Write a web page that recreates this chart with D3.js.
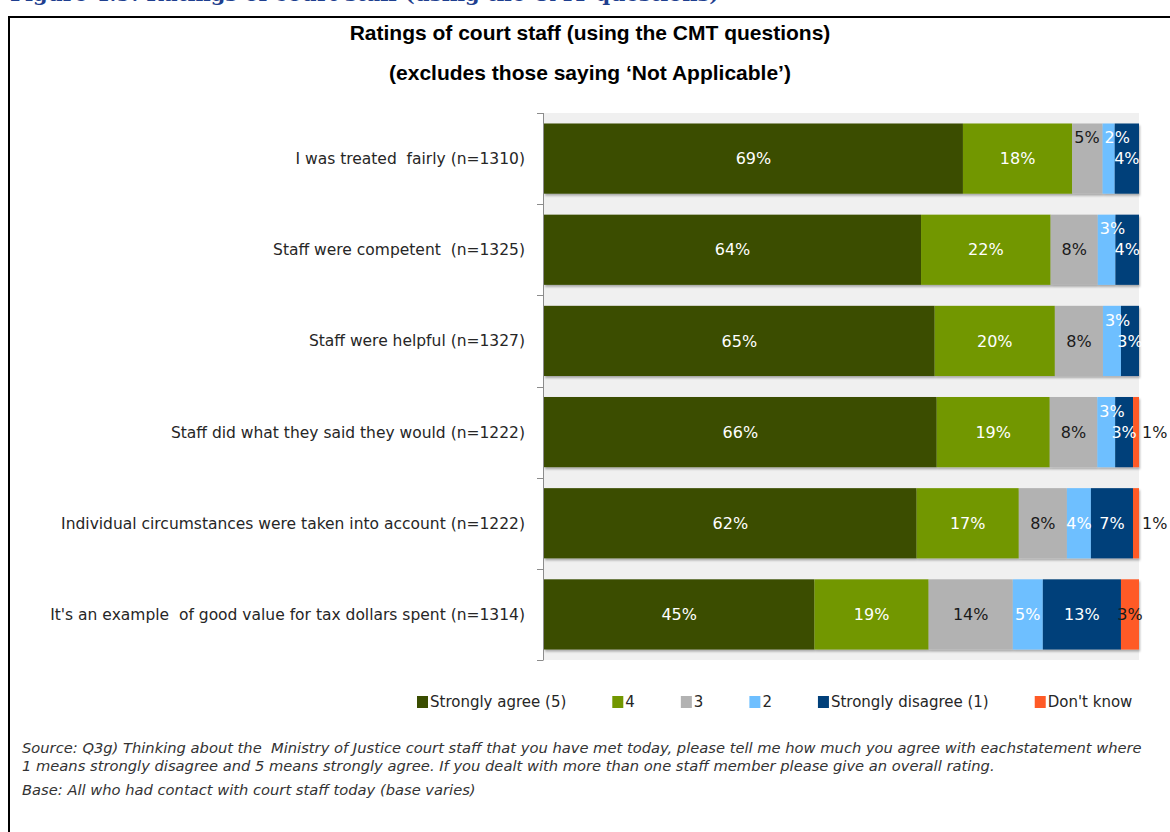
<!DOCTYPE html>
<html>
<head>
<meta charset="utf-8">
<script src="https://cdn.jsdelivr.net/npm/d3@7"></script>
<style>
  html, body { margin: 0; padding: 0; background: #ffffff; }
  svg { display: block; }
  svg text { white-space: pre; }
</style>
</head>
<body>
<svg id="chart" width="1170" height="832"></svg>
<script>
// Survey statements (row labels, top to bottom)
const statements = [
  "I was treated  fairly (n=1310)",
  "Staff were competent  (n=1325)",
  "Staff were helpful (n=1327)",
  "Staff did what they said they would (n=1222)",
  "Individual circumstances were taken into account (n=1222)",
  "It's an example  of good value for tax dollars spent (n=1314)"
];

// Response categories, in stacking order
const responses = ["Strongly agree (5)", "4", "3", "2", "Strongly disagree (1)", "Don't know"];

// Percentages per response, one value per statement
const stronglyAgree    = [69, 64, 65, 66, 62, 45];
const agree4           = [18, 22, 20, 19, 17, 19];
const neutral3         = [5, 8, 8, 8, 8, 14];
const disagree2        = [2, 3, 3, 3, 4, 5];
const stronglyDisagree = [4, 4, 3, 3, 7, 13];
const dontKnow         = [0, 0, 0, 1, 1, 3];

const seriesValues = [stronglyAgree, agree4, neutral3, disagree2, stronglyDisagree, dontKnow];

const colors = ["#3a4d00", "#729700", "#b2b2b2", "#6ebfff", "#01407a", "#ff5a26"];
const labelColors = ["#ffffff", "#ffffff", "#1a1a1a", "#ffffff", "#ffffff", "#1a1a1a"];

const titleLines = [
  "Ratings of court staff (using the CMT questions)",
  "(excludes those saying \u2018Not Applicable\u2019)"
];
const headingText = "Figure 4.9: Ratings of court staff (using the CMT questions)";
const footnotes = [
  "Source: Q3g) Thinking about the  Ministry of Justice court staff that you have met today, please tell me how much you agree with eachstatement where",
  "1 means strongly disagree and 5 means strongly agree. If you dealt with more than one staff member please give an overall rating.",
  "Base: All who had contact with court staff today (base varies)"
];

// Build row records for the stack
const rows = statements.map((s, i) => {
  const r = { statement: s };
  responses.forEach((k, j) => { r[k] = seriesValues[j][i]; });
  return r;
});

const svg = d3.select("#chart");
const baseFont = "'DejaVu Sans', 'Century Gothic', sans-serif";

// Report heading, running off the top of the page
svg.append("text")
  .attr("x", 10).attr("y", 1)
  .attr("font-family", "'DejaVu Serif', 'Liberation Serif', serif")
  .attr("font-weight", "bold")
  .attr("font-size", 21)
  .attr("fill", "#1f3f8f")
  .text(headingText);

// Frame around the figure
svg.append("rect")
  .attr("x", 9).attr("y", 17)
  .attr("width", 1200).attr("height", 860)
  .attr("fill", "none")
  .attr("stroke", "#000")
  .attr("stroke-width", 2);

// Titles
svg.selectAll("text.title")
  .data(titleLines)
  .join("text")
  .attr("class", "title")
  .attr("x", 590)
  .attr("y", (d, i) => 40 + i * 40)
  .attr("text-anchor", "middle")
  .attr("font-family", "'Liberation Sans', Arial, sans-serif")
  .attr("font-weight", "bold")
  .attr("font-size", 21)
  .attr("fill", "#000")
  .text(d => d);

// Scales
const plot = { left: 544, right: 1139, top: 113, bottom: 660 };

const x = d3.scaleLinear().domain([0, 1]).range([plot.left, plot.right]);
const y = d3.scaleBand()
  .domain(statements)
  .range([plot.top, plot.bottom])
  .paddingInner(0.23)
  .paddingOuter(0.115);

// Each row is shown as shares of its own total
const stacked = d3.stack()
  .keys(responses)
  .offset(d3.stackOffsetExpand)(rows);

// Plot area background
svg.append("rect")
  .attr("x", plot.left).attr("y", plot.top)
  .attr("width", plot.right - plot.left)
  .attr("height", plot.bottom - plot.top)
  .attr("fill", "#f0f0f0");

// Soft shadow under bars
const defs = svg.append("defs");
const f = defs.append("filter").attr("id", "barShadow")
  .attr("x", "-5%").attr("y", "-10%").attr("width", "110%").attr("height", "130%");
f.append("feDropShadow")
  .attr("dx", 1).attr("dy", 2)
  .attr("stdDeviation", 1.2)
  .attr("flood-color", "#000")
  .attr("flood-opacity", 0.3);

// Bars
const barsG = svg.append("g").attr("filter", "url(#barShadow)");
barsG.selectAll("g.series")
  .data(stacked)
  .join("g")
  .attr("class", "series")
  .attr("fill", (d, i) => colors[i])
  .selectAll("rect")
  .data(d => d)
  .join("rect")
  .attr("x", d => x(d[0]))
  .attr("y", d => y(d.data.statement))
  .attr("width", d => Math.max(0, x(d[1]) - x(d[0])))
  .attr("height", y.bandwidth());

// Axis: vertical line with ticks at the band boundaries
const axisG = svg.append("g").attr("stroke", "#8c8c8c").attr("stroke-width", 1);
axisG.append("line")
  .attr("x1", plot.left - 0.5).attr("x2", plot.left - 0.5)
  .attr("y1", plot.top).attr("y2", plot.bottom);
const boundaries = statements.map(s => y(s) - y.step() * y.paddingInner() / 2)
  .concat([plot.bottom]);
boundaries[0] = plot.top;
axisG.selectAll("line.tick")
  .data(boundaries)
  .join("line")
  .attr("class", "tick")
  .attr("x1", plot.left - 7).attr("x2", plot.left - 0.5)
  .attr("y1", d => Math.round(d) + 0.5).attr("y2", d => Math.round(d) + 0.5);

// Category labels
svg.selectAll("text.cat")
  .data(statements)
  .join("text")
  .attr("class", "cat")
  .attr("x", 525)
  .attr("y", d => y(d) + y.bandwidth() / 2)
  .attr("dy", "0.35em")
  .attr("text-anchor", "end")
  .attr("font-family", baseFont)
  .attr("font-size", 15.5)
  .attr("fill", "#262626")
  .text(d => d);

// Value labels
const labelFont = 16;
const labels = [];
stacked.forEach((series, si) => {
  series.forEach((d, ri) => {
    const v = seriesValues[si][ri];
    if (!v) return;
    const x0 = x(d[0]), x1 = x(d[1]);
    const w = x1 - x0;
    const cy = y(d.data.statement) + y.bandwidth() / 2;
    let lx = (x0 + x1) / 2, anchor = "middle", fill = labelColors[si];
    if (w < 12) { lx = x1 + 3; anchor = "start"; fill = "#1a1a1a"; }
    labels.push({ text: v + "%", x: lx, x0, y: cy, anchor, fill, si, ri, w });
  });
});

const labelSel = svg.selectAll("text.val")
  .data(labels)
  .join("text")
  .attr("class", "val")
  .attr("x", d => d.x)
  .attr("y", d => d.y)
  .attr("dy", "0.35em")
  .attr("text-anchor", d => d.anchor)
  .attr("font-family", baseFont)
  .attr("font-size", labelFont)
  .attr("fill", d => d.fill)
  .text(d => d.text);

// A centred label that would collide with the next label in its row
// is lifted above the row centre and starts at its segment's left edge
labelSel.each(function (d) { d.tw = this.getComputedTextLength(); });
labels.forEach(d => {
  if (d.anchor !== "middle") return;
  const next = labels.find(o => o.ri === d.ri && o.si === d.si + 1 && o.anchor === "middle");
  if (next && (next.x - d.x) < (d.tw + next.tw) / 2) {
    d.y -= 21;
    d.x = d.x0 + 2;
    d.anchor = "start";
  }
});
labelSel
  .attr("x", d => d.x)
  .attr("y", d => d.y)
  .attr("text-anchor", d => d.anchor);

// Legend
const legend = svg.append("g").attr("transform", "translate(417,702)");
let lxPos = 0;
responses.forEach((r, i) => {
  const g = legend.append("g").attr("transform", `translate(${lxPos},0)`);
  g.append("rect").attr("x", 0).attr("y", -6).attr("width", 11).attr("height", 12).attr("fill", colors[i]);
  const t = g.append("text")
    .attr("x", 13).attr("y", 0).attr("dy", "0.35em")
    .attr("font-family", baseFont)
    .attr("font-size", 15)
    .attr("fill", "#262626")
    .text(r);
  lxPos += 13 + t.node().getComputedTextLength() + 46;
});

// Footnotes
svg.selectAll("text.note")
  .data(footnotes)
  .join("text")
  .attr("class", "note")
  .attr("x", 22)
  .attr("y", (d, i) => [753, 771, 795][i])
  .attr("font-family", baseFont)
  .attr("font-style", "italic")
  .attr("font-size", 14.7)
  .attr("fill", "#333")
  .text(d => d);
</script>
</body>
</html>
